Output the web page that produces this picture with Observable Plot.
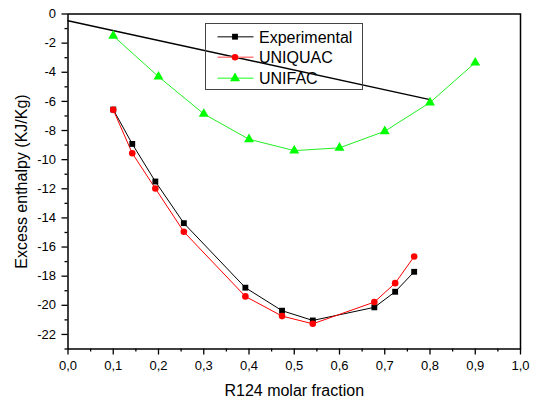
<!DOCTYPE html>
<html><head><meta charset="utf-8">
<script src="https://cdn.jsdelivr.net/npm/d3@7"></script>
<script src="https://cdn.jsdelivr.net/npm/@observablehq/plot@0.6"></script>
<style>
body{margin:0;background:#fff;font-family:"Liberation Sans",Arial,sans-serif}
#chart svg{display:block}
</style>
</head><body><div id="chart"></div>
<script>
// Data
const expX = [0.100, 0.142, 0.193, 0.256, 0.392, 0.473, 0.541, 0.677, 0.723, 0.765];
const expY = [-6.56, -8.92, -11.50, -14.36, -18.79, -20.37, -21.04, -20.14, -19.07, -17.70];
const uniquacX = [0.100, 0.142, 0.193, 0.256, 0.392, 0.473, 0.541, 0.677, 0.723, 0.765];
const uniquacY = [-6.58, -9.56, -11.98, -14.95, -19.39, -20.74, -21.27, -19.78, -18.48, -16.65];
const unifacX = [0.1, 0.2, 0.3, 0.4, 0.5, 0.6, 0.7, 0.8, 0.9];
const unifacY = [-1.50, -4.30, -6.86, -8.60, -9.38, -9.19, -8.05, -6.08, -3.34];
const refLineX = [0.0, 0.8];
const refLineY = [-0.46, -5.88];
const xMajor = [0, 0.1, 0.2, 0.3, 0.4, 0.5, 0.6, 0.7, 0.8, 0.9, 1.0];
const xMinor = [0.05, 0.15, 0.25, 0.35, 0.45, 0.55, 0.65, 0.75, 0.85, 0.95];
const yMajor = [0, -2, -4, -6, -8, -10, -12, -14, -16, -18, -20, -22];
const yMinor = [-1, -3, -5, -7, -9, -11, -13, -15, -17, -19, -21, -23];
const seriesNames = ["Experimental", "UNIQUAC", "UNIFAC"];
const xTitle = "R124 molar fraction";
const yTitle = "Excess enthalpy (KJ/Kg)";

const toPts = (xs, ys) => xs.map((x, i) => ({x, y: ys[i]}));
const exp = toPts(expX, expY);
const uniq = toPts(uniquacX, uniquacY);
const unif = toPts(unifacX, unifacY);
const refl = toPts(refLineX, refLineY);

const chart = Plot.plot({
  width: 539, height: 405,
  marginLeft: 67.5, marginRight: 19, marginTop: 13.5, marginBottom: 56.5,
  style: {fontFamily: '"Liberation Sans", Arial, sans-serif', background: "#fff", color: "#000"},
  x: {domain: [0, 1]},
  y: {domain: [-23, 0]},
  marks: [
    Plot.axisX(xMajor, {tickSize: 6, tickPadding: 6, fontSize: 13, tickFormat: d => d.toFixed(1).replace(".", ","), label: null, strokeWidth: 1.3}),
    Plot.axisX(xMinor, {tickSize: 3, tickFormat: () => "", label: null, strokeWidth: 1.3}),
    Plot.axisY(yMajor, {tickSize: 6, tickPadding: 6, fontSize: 13, tickFormat: d => String(d), label: null, strokeWidth: 1.3}),
    Plot.axisY(yMinor, {tickSize: 3, tickFormat: () => "", label: null, strokeWidth: 1.3}),
    Plot.frame({stroke: "#000", strokeWidth: 1.5}),
    Plot.line(refl, {x: "x", y: "y", stroke: "#000", strokeWidth: 1.4}),
    Plot.line(unif, {x: "x", y: "y", stroke: "#22ee22", strokeWidth: 1}),
    Plot.line(exp, {x: "x", y: "y", stroke: "#000", strokeWidth: 1}),
    Plot.line(uniq, {x: "x", y: "y", stroke: "#ff0000", strokeWidth: 1}),
    Plot.dot(unif, {x: "x", y: "y", symbol: "triangle", fill: "#00ff00", r: 3.7}),
    Plot.dot(exp, {x: "x", y: "y", symbol: "square", fill: "#000", r: 3.3}),
    Plot.dot(uniq, {x: "x", y: "y", symbol: "circle", fill: "#ff0000", r: 3.3}),
    Plot.text([xTitle], {frameAnchor: "bottom", dy: 42, fontSize: 16, fill: "#000", textAnchor: "middle", lineAnchor: "middle"}),
    Plot.text([yTitle], {frameAnchor: "left", dx: -46, rotate: -90, fontSize: 16, fill: "#000", textAnchor: "middle", lineAnchor: "middle"})
  ]
});
document.getElementById("chart").appendChild(chart);

// Legend box (Origin-style) inside the plot area
const svg = d3.select(chart);
const lg = svg.append("g").attr("font-family", '"Liberation Sans", Arial, sans-serif').attr("text-anchor", "start");
lg.append("rect").attr("x", 205.5).attr("y", 23.5).attr("width", 157).attr("height", 66)
  .attr("fill", "none").attr("stroke", "#444").attr("stroke-width", 1);
const legendStyle = [
  {line: "#555", fill: "#000", sym: d3.symbolSquare, r: 3.3},
  {line: "#ff8080", fill: "#ff0000", sym: d3.symbolCircle, r: 3.3},
  {line: "#66ff66", fill: "#00ff00", sym: d3.symbolTriangle, r: 3.7}
];
const rowY = [36.7, 57.3, 78.3];
seriesNames.forEach((name, i) => {
  const s = legendStyle[i], yy = rowY[i];
  lg.append("line").attr("x1", 217.5).attr("x2", 253.5).attr("y1", yy).attr("y2", yy)
    .attr("stroke", s.line).attr("stroke-width", 1.5);
  lg.append("path").attr("d", d3.symbol(s.sym, s.r * s.r * Math.PI)())
    .attr("transform", `translate(235,${yy})`).attr("fill", s.fill).attr("stroke", "none");
  lg.append("text").attr("x", 259).attr("y", yy + 6).attr("font-size", 16).attr("fill", "#000").attr("stroke", "none").text(name);
});
</script>
</body></html>
